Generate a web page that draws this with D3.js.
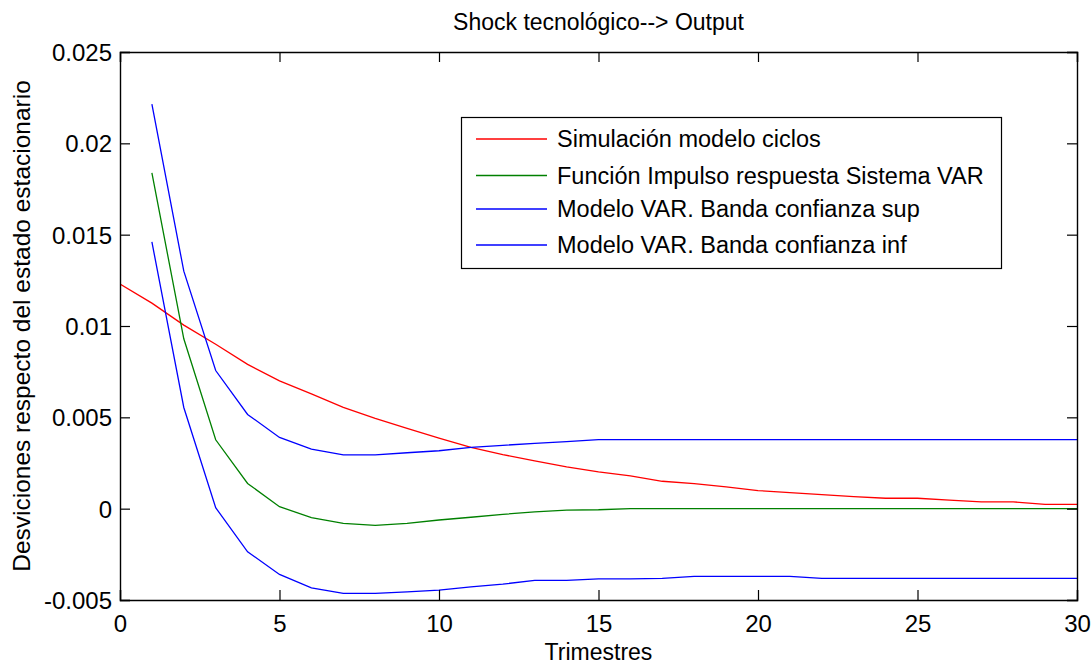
<!DOCTYPE html>
<html>
<head>
<meta charset="utf-8">
<script src="https://cdn.jsdelivr.net/npm/d3@7"></script>
<style>
  html, body { margin: 0; padding: 0; background: #fff; }
  svg text { font-family: "Liberation Sans", Arial, sans-serif; fill: #000; }
</style>
</head>
<body>
<svg id="chart" width="1092" height="666"></svg>
<script>
// ---- data ----
const tRed = [0,1,2,3,4,5,6,7,8,9,10,11,12,13,14,15,16,17,18,19,20,21,22,23,24,25,26,27,28,29,30];
const tVar = [1,2,3,4,5,6,7,8,9,10,11,12,13,14,15,16,17,18,19,20,21,22,23,24,25,26,27,28,29,30];
const simCiclos = [0.0123,0.01125,0.01005,0.0090,0.0079,0.0070,0.00628,0.00554,0.00494,0.00439,0.00386,0.00335,0.00296,0.00262,0.00229,0.00201,0.00179,0.0015,0.00137,0.00119,0.00099,0.00088,0.00077,0.00066,0.00057,0.00057,0.00047,0.00037,0.00037,0.00024,0.00024];
const impulsoVAR = [0.01838,0.0093,0.00377,0.00138,0.00011,-0.00049,-0.0008,-0.00091,-0.0008,-0.00062,-0.00047,-0.00031,-0.00018,-0.00008,-0.00006,0,0,0,0,0,0,0,0,0,0,0,0,0,0,0];
const bandaSup = [0.02215,0.0130,0.00756,0.00516,0.0039,0.00326,0.00295,0.00295,0.00306,0.00317,0.00335,0.00347,0.00357,0.00367,0.00378,0.00378,0.00378,0.00378,0.00378,0.00378,0.00378,0.00378,0.00378,0.00378,0.00378,0.00378,0.00378,0.00378,0.00378,0.00378];
const bandaInf = [0.0146,0.00554,0.00005,-0.00236,-0.0036,-0.00434,-0.00464,-0.00464,-0.00456,-0.00446,-0.00428,-0.00413,-0.00393,-0.00393,-0.00384,-0.00384,-0.00382,-0.00371,-0.00371,-0.00371,-0.00371,-0.00382,-0.00382,-0.00382,-0.00382,-0.00382,-0.00382,-0.00382,-0.00382,-0.00382];
const xTicks = [0,5,10,15,20,25,30];
const yTicks = [-0.005,0,0.005,0.01,0.015,0.02,0.025];
const yTickLabels = ["-0.005","0","0.005","0.01","0.015","0.02","0.025"];
const seriesNames = ["Simulación modelo ciclos","Función Impulso respuesta Sistema VAR","Modelo VAR. Banda confianza sup","Modelo VAR. Banda confianza inf"];
const seriesColors = ["#ff0000","#008000","#0000ff","#0000ff"];
const titleText = "Shock tecnológico--> Output";
const xLabel = "Trimestres";
const yLabel = "Desviciones respecto del estado estacionario";

// ---- layout ----
const L = 120, R = 1077, T = 52, B = 600;
const svg = d3.select("#chart");
const x = d3.scaleLinear().domain([0,30]).range([L,R]);
const y = d3.scaleLinear().domain([-0.005,0.025]).range([B,T]);

// series
const series = [
  {t: tRed, v: simCiclos},
  {t: tVar, v: impulsoVAR},
  {t: tVar, v: bandaSup},
  {t: tVar, v: bandaInf}
];
const line = d3.line().x(d => x(d[0])).y(d => y(d[1]));
svg.append("clipPath").attr("id","clip").append("rect")
  .attr("x",L).attr("y",T).attr("width",R-L).attr("height",B-T);
const g = svg.append("g").attr("clip-path","url(#clip)");
series.forEach((s,i) => {
  g.append("path")
    .datum(s.t.map((tt,k) => [tt, s.v[k]]))
    .attr("d", line)
    .attr("fill","none")
    .attr("stroke", seriesColors[i])
    .attr("stroke-width", 1.3);
});

// axes (box with inward ticks)
const tickLen = 10;
const axB = d3.axisBottom(x).tickValues(xTicks).tickSize(-tickLen).tickFormat(d3.format("d"));
const axT = d3.axisTop(x).tickValues(xTicks).tickSize(-tickLen).tickFormat("");
const axLft = d3.axisLeft(y).tickValues(yTicks).tickSize(-tickLen)
  .tickFormat((d,i) => yTickLabels[i]);
const axRgt = d3.axisRight(y).tickValues(yTicks).tickSize(-tickLen).tickFormat("");

function styleAxis(sel) {
  sel.select(".domain").attr("stroke","#000").attr("stroke-width",1.4);
  sel.selectAll(".tick line").attr("stroke","#000").attr("stroke-width",1.2);
  sel.selectAll(".tick text").attr("font-size",24).attr("font-family","Liberation Sans, Arial, sans-serif").attr("fill","#000");
}
svg.append("g").attr("transform",`translate(0,${B})`).call(axB).call(styleAxis)
  .selectAll(".tick text").attr("dy",null).attr("y", 31.5);
svg.append("g").attr("transform",`translate(0,${T})`).call(axT).call(styleAxis);
svg.append("g").attr("transform",`translate(${L},0)`).call(axLft).call(styleAxis)
  .selectAll(".tick text").attr("dy","0.36em").attr("x",-8);
svg.append("g").attr("transform",`translate(${R},0)`).call(axRgt).call(styleAxis);

// title & labels
svg.append("text").attr("x",(L+R)/2).attr("y",30).attr("text-anchor","middle")
  .attr("font-size",23).text(titleText);
svg.append("text").attr("x",(L+R)/2).attr("y",660).attr("text-anchor","middle")
  .attr("font-size",23).text(xLabel);
svg.append("text").attr("transform",`translate(30,${(T+B)/2}) rotate(-90)`)
  .attr("text-anchor","middle").attr("font-size",24.5).text(yLabel);

// legend
const lg = svg.append("g");
lg.append("rect").attr("x",461.5).attr("y",117.5).attr("width",540).attr("height",151)
  .attr("fill","#fff").attr("stroke","#000").attr("stroke-width",1.2);
const rowY = [139, 175.5, 209, 245];
seriesNames.forEach((name,i) => {
  lg.append("line").attr("x1",476).attr("x2",547).attr("y1",rowY[i]).attr("y2",rowY[i])
    .attr("stroke",seriesColors[i]).attr("stroke-width",1.3);
  lg.append("text").attr("x",557).attr("y",rowY[i]).attr("dy","0.36em")
    .attr("font-size",23.5).text(name);
});
</script>
</body>
</html>
